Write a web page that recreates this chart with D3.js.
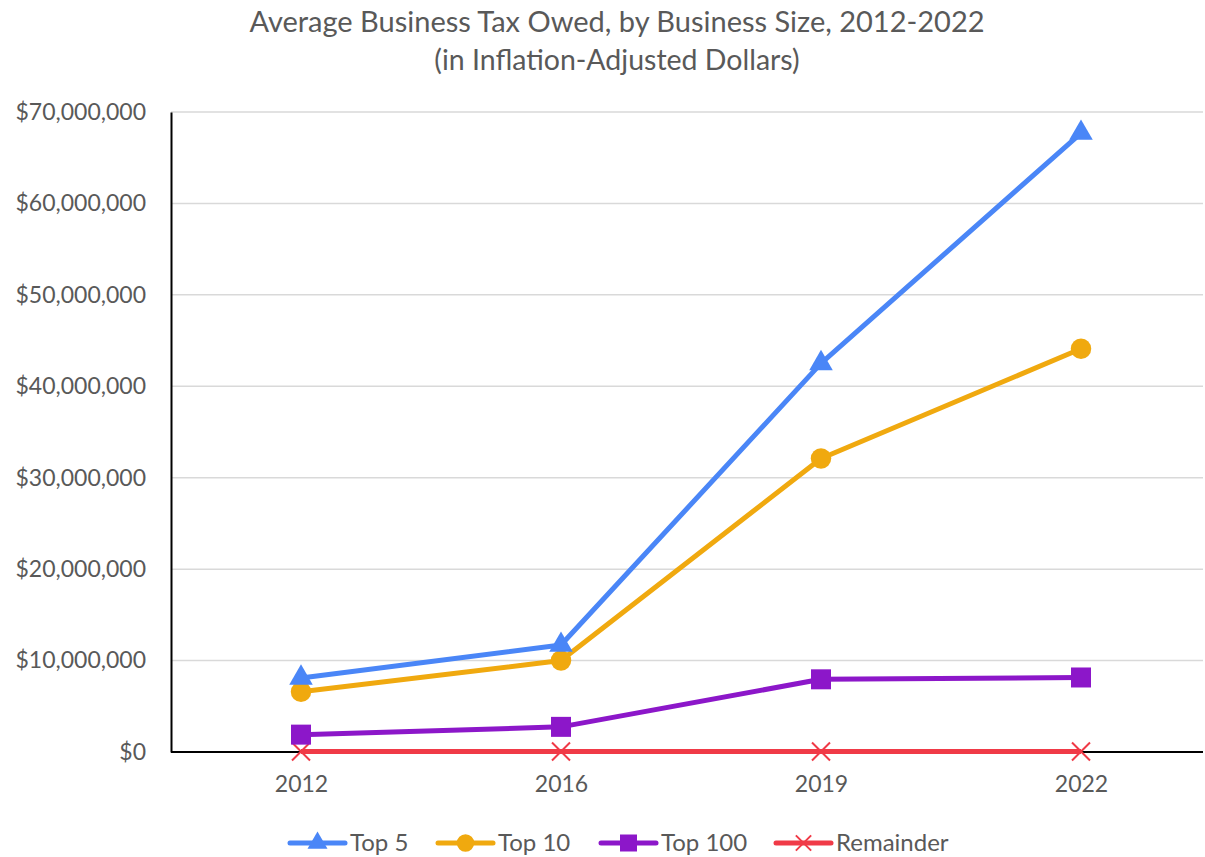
<!DOCTYPE html>
<html>
<head>
<meta charset="utf-8">
<script src="https://cdn.jsdelivr.net/npm/d3@7"></script>
<style>
  body { margin: 0; background: #fff; }
  svg { display: block; font-family: Lato, "Open Sans", sans-serif; }
  .tick text { fill: #595959; font-size: 23px; font-family: Lato, "Open Sans", sans-serif; }
</style>
</head>
<body>
<div id="svg-container"></div>
<script>
// data
const years = ["2012", "2016", "2019", "2022"];
const top5 = [8100000, 11700000, 42500000, 67700000];
const top10 = [6600000, 10000000, 32100000, 44100000];
const top100 = [1900000, 2750000, 7950000, 8150000];
const remainder = [50000, 50000, 60000, 60000];
const yTicks = [0, 10000000, 20000000, 30000000, 40000000, 50000000, 60000000, 70000000];

const series = [
  { name: "Top 5", values: top5, color: "#4a86f7", symbol: "triangle" },
  { name: "Top 10", values: top10, color: "#f0a90f", symbol: "circle" },
  { name: "Top 100", values: top100, color: "#8c17c9", symbol: "square" },
  { name: "Remainder", values: remainder, color: "#f03a47", symbol: "cross" },
];

const width = 1205;
const height = 857;
const margin = { top: 112, right: 2, bottom: 105, left: 171 };

const svg = d3.select("#svg-container").append("svg")
  .attr("width", width)
  .attr("height", height);

// scales
const xScale = d3.scalePoint()
  .domain(years)
  .range([margin.left, margin.left + 1040])
  .padding(0.5);

const yScale = d3.scaleLinear()
  .domain([0, 70000000])
  .range([height - margin.bottom, margin.top]);

// title
svg.append("text")
  .attr("x", 617).attr("y", 32)
  .attr("text-anchor", "middle")
  .attr("fill", "#595959")
  .style("font-size", "29px")
  .text("Average Business Tax Owed, by Business Size, 2012-2022");
svg.append("text")
  .attr("x", 617).attr("y", 70)
  .attr("text-anchor", "middle")
  .attr("fill", "#595959")
  .style("font-size", "28.5px")
  .text("(in Inflation-Adjusted Dollars)");

// grid
svg.append("g")
  .selectAll("line")
  .data(yTicks)
  .enter()
  .append("line")
  .attr("x1", margin.left)
  .attr("x2", width - margin.right)
  .attr("y1", (d) => yScale(d))
  .attr("y2", (d) => yScale(d))
  .attr("stroke", "#d9d9d9")
  .attr("stroke-width", 1.5);

// y axis
const yAxis = svg.append("g")
  .attr("transform", `translate(${margin.left},0)`)
  .call(d3.axisLeft(yScale).tickValues(yTicks).tickSize(0).tickPadding(25)
    .tickFormat((d) => "$" + d3.format(",")(d)));
yAxis.select(".domain").attr("stroke", "#000").attr("stroke-width", 2);

// x axis
const xAxis = svg.append("g")
  .attr("transform", `translate(0,${yScale(0)})`)
  .call(d3.axisBottom(xScale).tickSize(0).tickPadding(24));
xAxis.select(".domain").remove();
svg.append("line")
  .attr("x1", margin.left).attr("x2", width - margin.right)
  .attr("y1", yScale(0)).attr("y2", yScale(0))
  .attr("stroke", "#000").attr("stroke-width", 2);

// markers
function drawMarker(g, s, x, y, k) {
  if (s.symbol === "cross") {
    const r = 9 * k;
    g.append("path")
      .attr("d", `M${x - r},${y - r}L${x + r},${y + r}M${x - r},${y + r}L${x + r},${y - r}`)
      .attr("stroke", s.color).attr("stroke-width", 2).attr("fill", "none");
  } else {
    const type = s.symbol === "triangle" ? d3.symbolTriangle
      : s.symbol === "circle" ? d3.symbolCircle : d3.symbolSquare;
    const size = s.symbol === "triangle" ? 240 : s.symbol === "circle" ? 330 : 400;
    g.append("path")
      .attr("d", d3.symbol().type(type).size(size * k * k)())
      .attr("transform", `translate(${x},${y})`)
      .attr("fill", s.color);
  }
}

const line = d3.line()
  .x((d, i) => xScale(years[i]))
  .y((d) => yScale(d));

// draw from back to front so Top 5 sits on top
series.slice().reverse().forEach((s) => {
  const g = svg.append("g");
  g.append("path")
    .datum(s.values)
    .attr("d", line)
    .attr("fill", "none")
    .attr("stroke", s.color)
    .attr("stroke-width", 5)
    .attr("stroke-linejoin", "round");
  s.values.forEach((v, i) => drawMarker(g, s, xScale(years[i]), yScale(v), 1));
});

// legend
const legendX = [290, 438, 601, 776];
const legendY = 843;
series.forEach((s, i) => {
  const g = svg.append("g");
  g.append("line")
    .attr("x1", legendX[i]).attr("x2", legendX[i] + 55)
    .attr("y1", legendY).attr("y2", legendY)
    .attr("stroke", s.color).attr("stroke-width", 5)
    .attr("stroke-linecap", "round");
  drawMarker(g, s, legendX[i] + 27.5, legendY, 0.85);
  g.append("text")
    .attr("x", legendX[i] + 60)
    .attr("y", legendY + 8)
    .attr("fill", "#595959")
    .style("font-size", "24px")
    .text(s.name);
});
</script>
</body>
</html>
